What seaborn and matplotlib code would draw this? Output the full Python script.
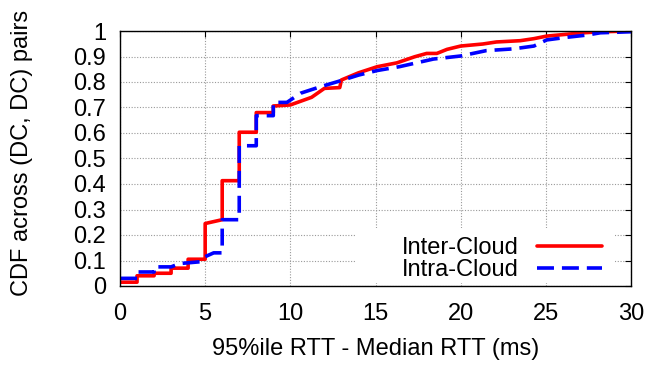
import matplotlib
matplotlib.use("Agg")
import matplotlib.pyplot as plt
import seaborn as sns
import pandas as pd
from matplotlib.ticker import FormatStrFormatter, MultipleLocator
from matplotlib.patches import Rectangle

inter_x = [0, 1, 1, 2, 2, 3, 3, 4, 4, 5, 5, 6, 6, 7, 7, 8, 8, 9, 9, 10, 11.25, 12.0, 12.9, 13.0,
           14.0, 15.1, 16.25, 17.3, 18.0, 18.6, 19.2, 20.0, 21.3, 22.1, 23.5, 24.3, 25.05, 26.2,
           27.2, 28.2, 30]
inter_y = [.015, .015, .04, .04, .05, .05, .07, .07, .105, .105, .245, .26, .413, .413, .603, .603,
           .68, .68, .706, .71, .74, .775, .778, .808, .836, .86, .875, .899, .912, .912, .928, .941,
           .949, .957, .962, .97, .98, .987, .993, .997, 1.0]
intra_x = [0, 1, 1, 2, 2, 3, 3.5, 4.7, 5, 5.5, 6, 6, 7, 7, 8, 8, 9, 9, 9.8, 10.6, 11.7, 12.9, 14,
           15.1, 16.4, 18.4, 20, 21.5, 23.1, 24.3, 25.05, 26.2, 27.4, 28.2, 30]
intra_y = [.03, .03, .055, .055, .075, .075, .088, .095, .115, .13, .13, .26, .26, .55, .55, .668,
           .668, .72, .72, .756, .78, .804, .827, .845, .86, .89, .902, .923, .93, .941, .965, .975,
           .984, .993, .997]

sns.set_theme(style="white")
plt.rcParams['font.family'] = ['Liberation Sans', 'DejaVu Sans']
plt.rcParams['font.size'] = 17
plt.rcParams['text.color'] = 'black'
plt.rcParams['axes.labelcolor'] = 'black'

fig = plt.figure(figsize=(6.49, 3.66), dpi=100)
ax = fig.add_axes([120/649, 1-286/366, 511/649, 255/366])

df_inter = pd.DataFrame({"x": inter_x, "y": inter_y})
df_intra = pd.DataFrame({"x": intra_x, "y": intra_y})

dash = [4.7, 2.2]
sns.lineplot(data=df_inter, x="x", y="y", sort=False, estimator=None, ax=ax,
             color="#ff0000", linewidth=2.6, label="Inter-Cloud", zorder=3)
sns.lineplot(data=df_intra, x="x", y="y", sort=False, estimator=None, ax=ax,
             color="#0000ff", linewidth=2.6, label="Intra-Cloud", zorder=4)
ax.lines[1].set_dashes(dash)

ax.set_xlim(0, 30)
ax.set_ylim(0, 1)
ax.xaxis.set_major_locator(MultipleLocator(5))
ax.yaxis.set_major_locator(MultipleLocator(0.1))
ax.yaxis.set_major_formatter(FormatStrFormatter('%g'))
ax.tick_params(direction='in', length=4, width=0.8, top=True, right=True,
               labelsize=17, colors='black')
ax.tick_params(axis='y', pad=10)
ax.tick_params(axis='x', pad=12)
ax.grid(True, color='#999999', linestyle=(0, (1, 1.5)), linewidth=0.8)
for s in ax.spines.values():
    s.set_color('black')
    s.set_linewidth(1.0)
    s.set_zorder(6)
ax.set_xlabel("95%ile RTT - Median RTT (ms)", fontsize=17, color='black')
ax.set_ylabel("CDF across (DC, DC) pairs", fontsize=17, color='black')
ax.yaxis.set_label_coords(-0.170, 0.52)
ax.xaxis.set_label_coords(0.5, -0.205)

# white legend background box (gnuplot style key area)
ax.add_patch(Rectangle((0.46, 0.012), 0.509, 0.215, transform=ax.transAxes,
                       facecolor='white', edgecolor='none', zorder=2))

leg = ax.legend(loc='center right', markerfirst=False, frameon=False,
                handlelength=2.75, handletextpad=0.75, borderpad=0.0, labelspacing=0.0,
                borderaxespad=0.0, fontsize=17, bbox_to_anchor=(0.943, 0.105))
leg.set_zorder(7)
for t in leg.get_texts():
    t.set_color('black')
leg.get_lines()[1].set_dashes(dash)

fig.savefig("out.png", dpi=100)
